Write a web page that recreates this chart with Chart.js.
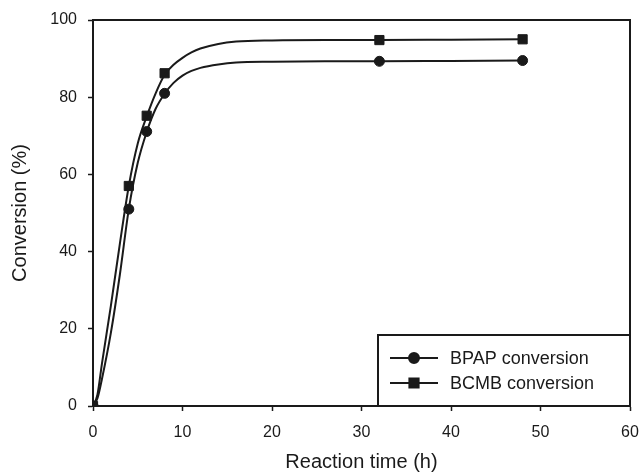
<!DOCTYPE html>
<html><head><meta charset="utf-8">
<script src="https://cdn.jsdelivr.net/npm/chart.js@4.4.1/dist/chart.umd.min.js"></script>
<style>html,body{margin:0;padding:0;background:#fff}#wrap{width:640px;height:474px;position:relative}</style>
</head><body><div id="wrap"><canvas id="c"></canvas></div>
<script>
// Measured data points
const times = [0, 4, 6, 8, 32, 48];
const bpapConv = [0, 51, 71.1, 81, 89.3, 89.5];
const bcmbConv = [0, 57, 75.2, 86.2, 94.8, 95];
// Fitted curves, values
const curveTimes = [0, 0.5, 1, 2, 3, 4, 5, 6, 7, 8, 9, 10, 11, 12, 14, 16, 20, 26, 32, 40, 48];
const bpapCurve = [0, 2, 7, 19, 34, 51, 63, 71, 77, 80.9, 83.7, 85.6, 86.8, 87.6, 88.5, 89, 89.2, 89.3, 89.3, 89.4, 89.5];
const bcmbCurve = [0, 3, 11, 26, 42, 57, 68, 75, 81, 85.8, 88.4, 90.2, 91.6, 92.6, 93.8, 94.4, 94.7, 94.8, 94.8, 94.9, 95];
const seriesNames = ['BPAP conversion', 'BCMB conversion'];
const xTitle = 'Reaction time (h)';
const yTitle = 'Conversion (%)';
const xRange = [0, 60], xStep = 10;
const yRange = [0, 100], yStep = 20;

const ink = '#1a1a1a';
Chart.defaults.font.family = '"Liberation Sans", Arial, Helvetica, sans-serif';
Chart.defaults.color = ink;

const pts = (xs, ys) => xs.map((x, i) => ({x, y: ys[i]}));

const frame = {
  id: 'frame',
  afterDraw(c) {
    const {ctx, chartArea: a} = c;
    ctx.save();
    ctx.strokeStyle = ink; ctx.lineWidth = 2;
    ctx.beginPath();
    ctx.moveTo(a.left, a.top); ctx.lineTo(a.right, a.top); ctx.lineTo(a.right, a.bottom);
    ctx.stroke();
    // legend box
    const w = 252, h = 71;
    const x0 = a.right - w, y0 = a.bottom - h;
    ctx.fillStyle = '#fff';
    ctx.fillRect(x0, y0, w, h);
    ctx.strokeRect(x0, y0, w, h);
    const styles = ['circle', 'rect'];
    const radii = [5, 6.5];
    ctx.font = '18px "Liberation Sans", Arial, sans-serif';
    ctx.textBaseline = 'middle';
    ctx.textAlign = 'left';
    seriesNames.forEach((name, i) => {
      const y = y0 + 23 + i * 25;
      ctx.strokeStyle = ink; ctx.lineWidth = 2;
      ctx.beginPath(); ctx.moveTo(x0 + 12, y); ctx.lineTo(x0 + 60, y); ctx.stroke();
      ctx.fillStyle = ink;
      Chart.helpers.drawPoint(ctx, {pointStyle: styles[i], radius: radii[i], borderWidth: 1, rotation: 0}, x0 + 36, y);
      ctx.fill();
      ctx.fillStyle = ink;
      ctx.fillText(name, x0 + 72, y + 1);
    });
    ctx.restore();
  }
};

new Chart(document.getElementById('c'), {
  type: 'scatter',
  data: {
    datasets: [
      {label: seriesNames[0] + ' fit', data: pts(curveTimes, bpapCurve), showLine: true, pointRadius: 0,
       borderColor: ink, borderWidth: 2, cubicInterpolationMode: 'monotone', fill: false},
      {label: seriesNames[1] + ' fit', data: pts(curveTimes, bcmbCurve), showLine: true, pointRadius: 0,
       borderColor: ink, borderWidth: 2, cubicInterpolationMode: 'monotone', fill: false},
      {label: seriesNames[0], data: pts(times, bpapConv), showLine: false, pointStyle: 'circle',
       pointRadius: 5, backgroundColor: ink, borderColor: ink, borderWidth: 1},
      {label: seriesNames[1], data: pts(times, bcmbConv), showLine: false, pointStyle: 'rect',
       pointRadius: 6.5, backgroundColor: ink, borderColor: ink, borderWidth: 1}
    ]
  },
  options: {
    responsive: true, maintainAspectRatio: false, animation: false,
    layout: {padding: {left: 0, right: 10, top: 20, bottom: 0}},
    plugins: {legend: {display: false}, tooltip: {enabled: false}},
    scales: {
      x: {
        type: 'linear', min: xRange[0], max: xRange[1],
        ticks: {stepSize: xStep, font: {size: 16}, color: ink, padding: 12, maxRotation: 0},
        grid: {drawOnChartArea: false, drawTicks: true, tickLength: 5, tickColor: ink, tickWidth: 1.5},
        border: {display: true, color: ink, width: 2},
        title: {display: true, text: xTitle, font: {size: 20}, color: ink, padding: {top: 0, bottom: 0}},
        afterFit(s) { s.height = 68; s.paddingLeft = 0; s.paddingRight = 0; }
      },
      y: {
        type: 'linear', min: yRange[0], max: yRange[1],
        ticks: {stepSize: yStep, font: {size: 16}, color: ink, padding: 11},
        grid: {drawOnChartArea: false, drawTicks: true, tickLength: 5, tickColor: ink, tickWidth: 1.5},
        border: {display: true, color: ink, width: 2},
        title: {display: true, text: yTitle, font: {size: 20}, color: ink, padding: {top: 8, bottom: 0}},
        afterFit(s) { s.width = 93; s.paddingTop = 0; s.paddingBottom = 0; }
      }
    }
  },
  plugins: [frame]
});
</script></body></html>
